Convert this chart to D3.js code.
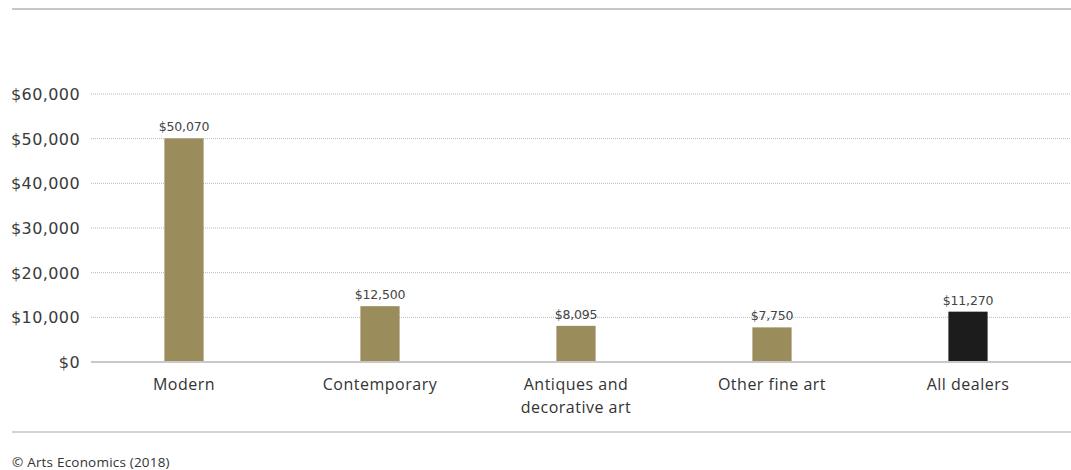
<!DOCTYPE html>
<html>
<head>
<meta charset="utf-8">
<script src="https://cdn.jsdelivr.net/npm/d3@7"></script>
<style>
  html, body { margin: 0; padding: 0; background: #fff; }
  svg { display: block; }
</style>
</head>
<body>
<svg id="chart" width="1071" height="470"></svg>
<script>
// Average value of works sold by dealer sector
const categories = ["Modern", "Contemporary", "Antiques and\ndecorative art", "Other fine art", "All dealers"];
const values = [50070, 12500, 8095, 7750, 11270];
const valueLabels = ["$50,070", "$12,500", "$8,095", "$7,750", "$11,270"];
const barColors = ["#9b8c5c", "#9b8c5c", "#9b8c5c", "#9b8c5c", "#1c1c1c"];
const yTicks = [0, 10000, 20000, 30000, 40000, 50000, 60000];
const source = "© Arts Economics (2018)";

const svg = d3.select("#chart");
const W = 1071;

const x = d3.scaleBand().domain(categories).range([86, 1066]).paddingInner(0.8).paddingOuter(0.4);
const y = d3.scaleLinear().domain([0, 60000]).range([362, 94]);

// frame rules
svg.append("line").attr("x1", 12).attr("x2", W).attr("y1", 9).attr("y2", 9)
  .attr("stroke", "#c8c8c8").attr("stroke-width", 2);
svg.append("line").attr("x1", 12).attr("x2", W).attr("y1", 432).attr("y2", 432)
  .attr("stroke", "#d4d4d4").attr("stroke-width", 2);

// gridlines
svg.append("g").selectAll("line").data(yTicks.filter(d => d > 0)).join("line")
  .attr("x1", 91).attr("x2", W).attr("y1", d => y(d)).attr("y2", d => y(d))
  .attr("stroke", "#b8b8b8").attr("stroke-width", 1).attr("stroke-dasharray", "1,1");

// y axis labels
const yAxis = d3.axisLeft(y).tickValues(yTicks).tickSize(0).tickPadding(0)
  .tickFormat(d => "$" + d3.format(",")(d));
const gy = svg.append("g").attr("transform", "translate(80,0)").call(yAxis);
gy.select(".domain").remove();
gy.selectAll("text").attr("font-family", "DejaVu Sans, sans-serif").attr("font-size", 16)
  .attr("letter-spacing", "0.4px")
  .attr("fill", "#3a3a3a").attr("dy", "0.35em");

// bars
svg.append("g").selectAll("rect").data(values).join("rect")
  .attr("x", (d, i) => x(categories[i]))
  .attr("width", x.bandwidth())
  .attr("y", d => y(d))
  .attr("height", d => y(0) - y(d))
  .attr("fill", (d, i) => barColors[i]);

// baseline
svg.append("line").attr("x1", 91).attr("x2", W).attr("y1", y(0)).attr("y2", y(0))
  .attr("stroke", "#c8c8c8").attr("stroke-width", 2);

// value labels
svg.append("g").selectAll("text").data(values).join("text")
  .attr("x", (d, i) => x(categories[i]) + x.bandwidth() / 2)
  .attr("y", d => y(d) - 7)
  .attr("text-anchor", "middle")
  .attr("font-family", "DejaVu Sans, sans-serif").attr("font-size", 12.5)
  .attr("letter-spacing", "-0.2px")
  .attr("fill", "#444")
  .text((d, i) => valueLabels[i]);

// category labels
const cat = svg.append("g").selectAll("text").data(categories).join("text")
  .attr("x", d => x(d) + x.bandwidth() / 2)
  .attr("y", 390)
  .attr("text-anchor", "middle")
  .attr("font-family", "Open Sans, sans-serif").attr("font-size", 16)
  .attr("letter-spacing", "0.5px")
  .attr("fill", "#333");
cat.selectAll("tspan").data(d => d.split("\n")).join("tspan")
  .attr("x", function() { return d3.select(this.parentNode).attr("x"); })
  .attr("dy", (d, i) => i === 0 ? 0 : 23)
  .text(d => d);

// source
svg.append("text").attr("x", 12).attr("y", 467)
  .attr("font-family", "Open Sans, sans-serif").attr("font-size", 13.5)
  .attr("letter-spacing", "0.2px")
  .attr("fill", "#333").text(source);
</script>
</body>
</html>
